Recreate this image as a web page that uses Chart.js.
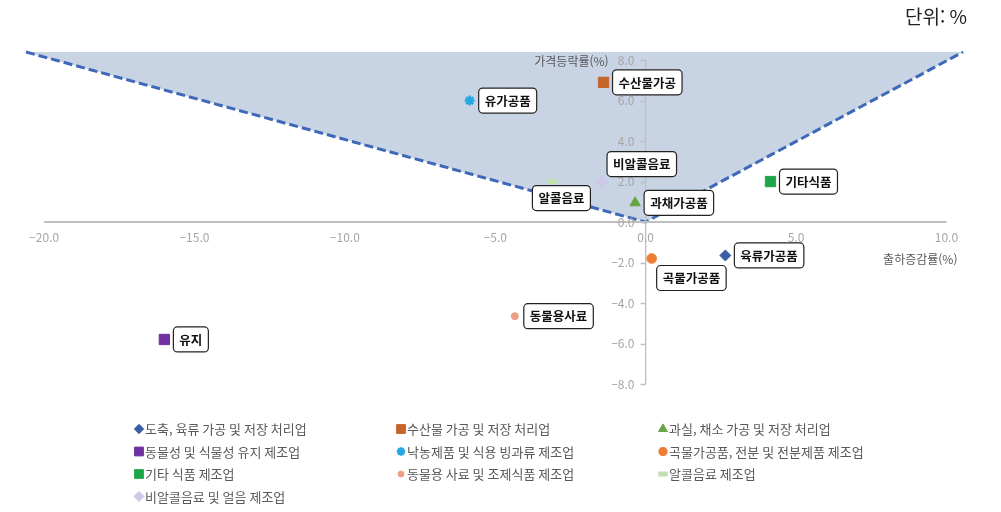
<!DOCTYPE html>
<html lang="ko">
<head>
<meta charset="utf-8">
<script src="https://cdn.jsdelivr.net/npm/chart.js@4.4.1/dist/chart.umd.min.js"></script>
<style>
  html, body { margin: 0; padding: 0; background: #fff; }
  #wrap { width: 1001px; height: 512px; position: relative; }
</style>
</head>
<body>
<div id="wrap"><canvas id="scatterCanvas"></canvas></div>
<script>
const legendNames = ['도축, 육류 가공 및 저장 처리업', '수산물 가공 및 저장 처리업', '과실, 채소 가공 및 저장 처리업',
  '동물성 및 식물성 유지 제조업', '낙농제품 및 식용 빙과류 제조업', '곡물가공품, 전분 및 전분제품 제조업',
  '기타 식품 제조업', '동물용 사료 및 조제식품 제조업', '알콜음료 제조업', '비알콜음료 및 얼음 제조업'];
const shortNames = ['육류가공품', '수산물가공', '과채가공품', '유지', '유가공품', '곡물가공품', '기타식품', '동물용사료', '알콜음료', '비알콜음료'];
// 출하증감률(%)
const shipmentChange = [2.65, -1.4, -0.35, -16.0, -5.85, 0.2, 4.15, -4.35, -3.1, -1.45];
// 가격등락률(%)
const priceChange = [-1.65, 6.9, 0.95, -5.8, 6.0, -1.8, 2.0, -4.65, 2.0, 2.0];

// 음영 경계선
const boundaryX = [-20.6, 0, 10.55];
const boundaryY = [8.4, 0, 8.4];

const xTicks = [-20, -15, -10, -5, 0, 5, 10];
const yTicks = [-8, -6, -4, -2, 0, 2, 4, 6, 8];

const pointStyles = ['rectRot', 'rect', 'triangle', 'rect', 'star', 'circle', 'rect', 'circle', 'line', 'rectRot'];
const pointColors = ['#3B5DA6', '#C5652A', '#67A543', '#7030A0', '#27A7E1', '#ED7D31', '#1FA64A', '#EE9E82', '#C2DFB2', '#CCC9E8'];
const pointSizes = [5.5, 7.3, 6, 7.3, 5, 4.8, 7.3, 3.5, 5.5, 6];
const pointBorders = [1, 1, 1, 1, 2.5, 1, 1, 1, 5, 1];

const labelPlace = { '비알콜음료': 'above', '알콜음료': 'below', '곡물가공품': 'belowRight' };

const FONT = "'Noto Sans CJK KR', 'Noto Sans', sans-serif";
Chart.defaults.font.family = FONT;

const fmt = v => v.toFixed(1).replace('-', '\u2212');

const datasets = shortNames.map((name, i) => ({
  label: name,
  data: [{ x: shipmentChange[i], y: priceChange[i] }],
  pointStyle: pointStyles[i],
  pointRadius: pointSizes[i],
  pointBorderWidth: pointBorders[i],
  backgroundColor: pointColors[i],
  borderColor: pointColors[i],
  order: 0
}));

const boundaryIndex = datasets.length;
datasets.push({
  type: 'line',
  label: 'boundary',
  data: boundaryX.map((x, i) => ({ x: x, y: boundaryY[i] })),
  borderColor: '#3F69B8',
  borderWidth: 3,
  borderDash: [9, 4],
  backgroundColor: '#C8D3E3',
  fill: 'end',
  pointRadius: 0,
  tension: 0,
  order: 1,
  clip: false
});

// 축선과 눈금 표시
const axisLines = {
  id: 'axisLines',
  afterDatasetDraw(chart, args) {
    if (args.index !== boundaryIndex) return;
    const { ctx, scales: { x, y } } = chart;
    const x0 = x.getPixelForValue(0), y0 = y.getPixelForValue(0);
    ctx.save();
    ctx.strokeStyle = '#BFBFBF';
    ctx.lineWidth = 2;
    ctx.beginPath();
    ctx.moveTo(x.getPixelForValue(xTicks[0]), y0);
    ctx.lineTo(x.getPixelForValue(xTicks[xTicks.length - 1]), y0);
    ctx.stroke();
    ctx.lineWidth = 1.3;
    ctx.beginPath();
    ctx.moveTo(x0, y.getPixelForValue(yTicks[yTicks.length - 1]));
    ctx.lineTo(x0, y.getPixelForValue(yTicks[0]));
    yTicks.forEach(v => {
      const py = Math.round(y.getPixelForValue(v)) + 0.5;
      ctx.moveTo(x0, py);
      ctx.lineTo(x0 - 5, py);
    });
    ctx.stroke();
    ctx.restore();
  }
};

const extras = {
  id: 'extras',
  afterDraw(chart) {
    const { ctx, scales: { x, y } } = chart;
    ctx.save();

    // 단위
    ctx.fillStyle = '#222';
    ctx.font = '19px ' + FONT;
    ctx.textAlign = 'right';
    ctx.textBaseline = 'middle';
    ctx.fillText('단위: %', 967, 17);

    // 축 제목
    ctx.fillStyle = '#595959';
    ctx.font = '12px ' + FONT;
    ctx.fillText('가격등락률(%)', x.getPixelForValue(0) - 37, y.getPixelForValue(8) + 1);
    ctx.fillText('출하증감률(%)', x.getPixelForValue(10) + 11, y.getPixelForValue(0) + 37);

    // 데이터 레이블
    ctx.font = 'bold 12.5px ' + FONT;
    shortNames.forEach((name, i) => {
      const el = chart.getDatasetMeta(i).data[0];
      const px = el.x, py = el.y;
      const w = ctx.measureText(name).width + 12, h = 25;
      let bx = px + 9, by = py - h / 2;
      const mode = labelPlace[name];
      if (mode === 'above') { bx = px + 5; by = py - 5 - h; }
      if (mode === 'below') { bx = px - 20; by = py + 4; }
      if (mode === 'belowRight') { bx = px + 5; by = py + 7; }
      ctx.beginPath();
      ctx.roundRect(bx, by, w, h, 4);
      ctx.fillStyle = '#fff';
      ctx.fill();
      ctx.lineWidth = 1.2;
      ctx.strokeStyle = '#222';
      ctx.stroke();
      ctx.fillStyle = '#111';
      ctx.textAlign = 'center';
      ctx.fillText(name, bx + w / 2, by + h / 2 + 0.5);
    });

    // 범례
    const colX = [139, 401, 663];
    const rowY = [429, 451.5, 474, 496.5];
    const drawPoint = Chart.helpers && Chart.helpers.drawPoint;
    ctx.font = '13px ' + FONT;
    ctx.textAlign = 'left';
    legendNames.forEach((name, i) => {
      const cx = colX[i % 3], cy = rowY[Math.floor(i / 3)];
      ctx.fillStyle = pointColors[i];
      ctx.strokeStyle = pointColors[i];
      ctx.lineWidth = pointBorders[i];
      if (drawPoint) {
        drawPoint(ctx, { pointStyle: pointStyles[i], radius: pointSizes[i] * 0.85, rotation: 0, borderWidth: pointBorders[i] }, cx, cy);
      } else {
        ctx.beginPath(); ctx.arc(cx, cy, 4.5, 0, Math.PI * 2); ctx.fill();
      }
      ctx.fillStyle = '#595959';
      ctx.fillText(name, cx + 6, cy + 0.5);
    });
    ctx.restore();
  }
};

const ctx = document.getElementById('scatterCanvas').getContext('2d');
new Chart(ctx, {
  type: 'scatter',
  data: { datasets: datasets },
  options: {
    responsive: true,
    maintainAspectRatio: false,
    animation: false,
    layout: { padding: { left: 26, right: 38, top: 52, bottom: 128 } },
    plugins: { legend: { display: false }, tooltip: { enabled: false } },
    scales: {
      x: {
        type: 'linear',
        position: { y: 0 },
        min: boundaryX[0],
        max: boundaryX[boundaryX.length - 1],
        afterBuildTicks: s => { s.ticks = xTicks.map(v => ({ value: v })); },
        grid: { display: false, drawTicks: false },
        border: { display: false },
        ticks: { z: 1, color: '#A6A6A6', font: { size: 12 }, padding: 8, maxRotation: 0, callback: v => fmt(v) }
      },
      y: {
        type: 'linear',
        // 눈금 라벨을 축선 왼쪽으로 띄우기 위한 위치
        position: { x: -0.37 },
        min: yTicks[0],
        max: boundaryY[0],
        afterBuildTicks: s => { s.ticks = yTicks.map(v => ({ value: v })); },
        grid: { display: false },
        border: { display: false },
        ticks: { z: 1, color: '#A6A6A6', font: { size: 12 }, callback: v => fmt(v) }
      }
    }
  },
  plugins: [axisLines, extras]
});
</script>
</body>
</html>
